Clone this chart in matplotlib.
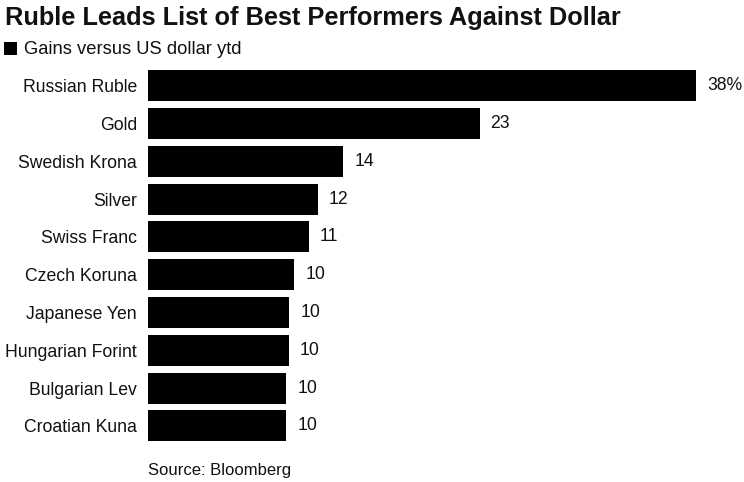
import matplotlib
matplotlib.use("Agg")
import matplotlib.pyplot as plt

categories = ["Russian Ruble", "Gold", "Swedish Krona", "Silver", "Swiss Franc",
              "Czech Koruna", "Japanese Yen", "Hungarian Forint", "Bulgarian Lev",
              "Croatian Kuna"]
values = [38.0, 23.0, 13.55, 11.8, 11.15, 10.15, 9.8, 9.75, 9.6, 9.6]
value_labels = ["38%", "23", "14", "12", "11", "10", "10", "10", "10", "10"]

title = "Ruble Leads List of Best Performers Against Dollar"
legend_label = "Gains versus US dollar ytd"
source = "Source: Bloomberg"

W, H = 744, 482
fig = plt.figure(figsize=(W / 100, H / 100), dpi=100)
fig.patch.set_facecolor("white")
plt.rcParams["font.family"] = ["Liberation Sans", "DejaVu Sans"]

left_px, right_px = 148, 696
top_px, bot_px = 66.8, 444.9
ax = fig.add_axes([left_px / W, 1 - bot_px / H, (right_px - left_px) / W, (bot_px - top_px) / H])
ypos = list(range(len(categories)))
ax.barh(ypos, values, height=0.82, color="black")
ax.set_xlim(0, 38)
ax.set_ylim(len(categories) - 0.5, -0.5)
ax.set_yticks(ypos)
ax.set_yticklabels(categories, fontsize=12.7, color="#111111")
ax.tick_params(axis="y", length=0, pad=8)
ax.set_xticks([])
for s in ax.spines.values():
    s.set_visible(False)

for y, v, lab in zip(ypos, values, value_labels):
    ax.annotate(lab, xy=(v, y), xytext=(7.8, 0), textcoords="offset points",
                ha="left", va="center", fontsize=12.7, color="#111111", annotation_clip=False)

fig.text(5 / W, 1 - 18 / H, title, fontsize=18.3, fontweight="bold", ha="left", va="center", color="#111111")
fig.patches.append(plt.Rectangle((4 / W, 1 - 55 / H), 13 / W, 13 / H, transform=fig.transFigure,
                                 facecolor="black", edgecolor="none"))
fig.text(24 / W, 1 - 49 / H, legend_label, fontsize=13.2, ha="left", va="center", color="#111111")
fig.text(148 / W, 1 - 470 / H, source, fontsize=12, ha="left", va="center", color="#111111")

fig.savefig("out.png", dpi=100, facecolor="white")
